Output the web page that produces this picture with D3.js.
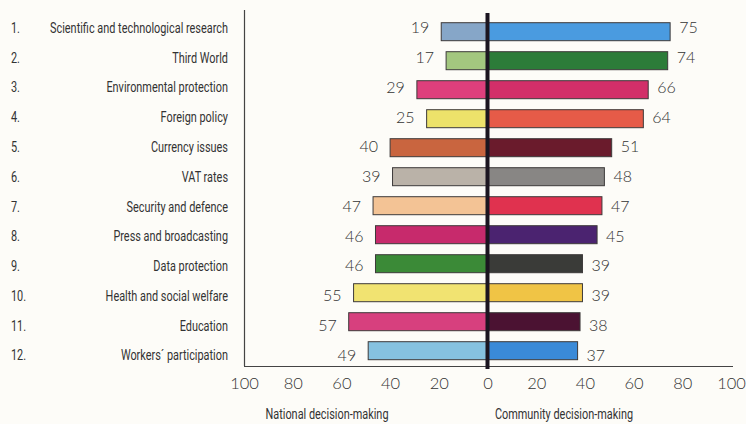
<!DOCTYPE html>
<html>
<head>
<meta charset="utf-8">
<script src="https://cdn.jsdelivr.net/npm/d3@7"></script>
<style>
  html, body { margin: 0; padding: 0; background: #fdfcf8; }
  svg { display: block; }
  .cat { font-family: "Roboto", "Noto Sans", sans-serif; font-size: 15px; fill: #333; }
  .num { font-family: "Lato", "Noto Sans", sans-serif; font-weight: 300; font-size: 16px; fill: #333; }
  .tick text { font-family: "Lato", "Noto Sans", sans-serif; font-weight: 300; font-size: 16.5px; fill: #333; }
</style>
</head>
<body>
<svg id="chart" width="746" height="424"></svg>
<script>
// Topics and the share of respondents favouring each decision level (%)
const ranks = ["1.", "2.", "3.", "4.", "5.", "6.", "7.", "8.", "9.", "10.", "11.", "12."];
const categories = [
  "Scientific and technological research",
  "Third World",
  "Environmental protection",
  "Foreign policy",
  "Currency issues",
  "VAT rates",
  "Security and defence",
  "Press and broadcasting",
  "Data protection",
  "Health and social welfare",
  "Education",
  "Workers\u00b4 participation"
];
const nationalValues  = [19, 17, 29, 25, 40, 39, 47, 46, 46, 55, 57, 49];
const communityValues = [75, 74, 66, 64, 51, 48, 47, 45, 39, 39, 38, 37];
const nationalColors  = ["#86a6c8", "#a3c77f", "#de3f7c", "#ede26a", "#c9653f", "#bab2a8",
                         "#f3c395", "#c72a6c", "#3b8a37", "#f1e371", "#d7407e", "#86c2e0"];
const communityColors = ["#4a9be0", "#2c7c39", "#d22f69", "#e65b48", "#6a1b2c", "#888684",
                         "#e0324f", "#4b2370", "#3a3b38", "#f0c445", "#4b1232", "#3a8ad8"];
const tickValues = [100, 80, 60, 40, 20, 0, 20, 40, 60, 80, 100];
const axisTitles = ["National decision-making", "Community decision-making"];

const svg = d3.select("#chart");

// Signed scale: national to the left (negative), community to the right
const x = d3.scaleLinear().domain([-100, 100]).range([244, 731]);
const rows = d3.range(categories.length);
const yBar = d3.scalePoint().domain(rows).range([31.7, 350.7]);
const yText = d3.scalePoint().domain(rows).range([27.5, 355]);
const barH = 18;

// Frame: left edge and baseline
svg.append("line").attr("x1", 244.5).attr("x2", 244.5).attr("y1", 10).attr("y2", 366)
  .attr("stroke", "#444").attr("stroke-width", 1.2);
svg.append("line").attr("x1", 244).attr("x2", 733).attr("y1", 366.5).attr("y2", 366.5)
  .attr("stroke", "#444").attr("stroke-width", 1.2);

// National bars
svg.append("g").selectAll("rect").data(rows).join("rect")
  .attr("x", i => x(-nationalValues[i]))
  .attr("y", i => yBar(i) - barH / 2)
  .attr("width", i => x(0) - x(-nationalValues[i]))
  .attr("height", barH)
  .attr("fill", i => nationalColors[i])
  .attr("stroke", "#3d3a3a").attr("stroke-width", 1);

// Community bars
svg.append("g").selectAll("rect").data(rows).join("rect")
  .attr("x", x(0))
  .attr("y", i => yBar(i) - barH / 2)
  .attr("width", i => x(communityValues[i]) - x(0))
  .attr("height", barH)
  .attr("fill", i => communityColors[i])
  .attr("stroke", "#3d3a3a").attr("stroke-width", 1);

// Central zero line
svg.append("line").attr("x1", x(0)).attr("x2", x(0)).attr("y1", 13).attr("y2", 369)
  .attr("stroke", "#1b1520").attr("stroke-width", 4);

// Value labels
svg.append("g").selectAll("text").data(rows).join("text")
  .attr("class", "num")
  .attr("x", i => x(-nationalValues[i]) - 12)
  .attr("y", i => yText(i))
  .attr("dy", "0.36em")
  .attr("text-anchor", "end")
  .text(i => nationalValues[i]);
svg.append("g").selectAll("text").data(rows).join("text")
  .attr("class", "num")
  .attr("x", i => x(communityValues[i]) + 9)
  .attr("y", i => yText(i))
  .attr("dy", "0.36em")
  .attr("text-anchor", "start")
  .text(i => communityValues[i]);

// Condensed labels: horizontally squeezed so the longest topic fits its column
const labelRight = 228, labelLeft = 50;
const catText = svg.append("g").selectAll("g").data(rows).join("g");
catText.append("text")
  .attr("class", "cat")
  .attr("dy", "0.36em")
  .attr("text-anchor", "end")
  .text(i => categories[i]);
let maxW = 0;
catText.select("text").each(function() { maxW = Math.max(maxW, this.getComputedTextLength()); });
const squeeze = (labelRight - labelLeft) / maxW;
catText.attr("transform", i => `translate(${labelRight},${yText(i)}) scale(${squeeze},1)`);

// Row numbers
svg.append("g").selectAll("g").data(rows).join("g")
  .attr("transform", i => `translate(11,${yText(i)}) scale(${squeeze},1)`)
  .append("text")
  .attr("class", "cat")
  .attr("dy", "0.36em")
  .text(i => ranks[i]);

// Bottom axis with unsigned tick labels
const tickDomain = [-100, -80, -60, -40, -20, 0, 20, 40, 60, 80, 100];
const axis = d3.axisBottom(x)
  .tickValues(tickDomain)
  .tickSize(0)
  .tickPadding(0)
  .tickFormat((d, i) => tickValues[i]);
const gAxis = svg.append("g").attr("transform", "translate(0,383)").call(axis);
gAxis.select(".domain").remove();
gAxis.selectAll(".tick text").attr("dy", "0.36em");

// Axis titles
[[327, axisTitles[0]], [564, axisTitles[1]]].forEach(([cx, t]) => {
  svg.append("g").attr("transform", `translate(${cx},414) scale(${squeeze},1)`)
    .append("text").attr("class", "cat").attr("dy", "0.36em")
    .attr("text-anchor", "middle").text(t);
});
</script>
</body>
</html>
